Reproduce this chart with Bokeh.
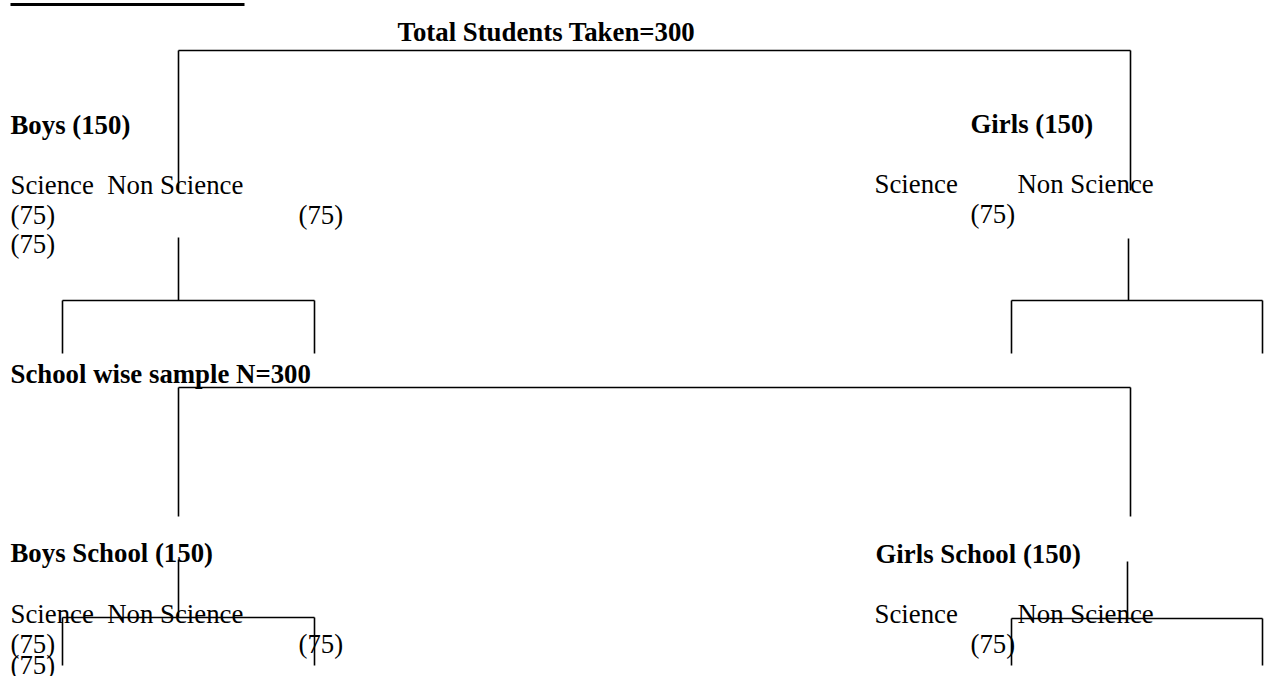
from bokeh.plotting import figure
from bokeh.models import Range1d, ColumnDataSource
from bokeh.core.properties import value
from bokeh.embed import file_html
from bokeh.resources import INLINE

# ---- data ----
total_students = 300
school_sample = 300
boys = 150
girls = 150
science = 75
non_science = 75

group_titles = [f"Total Students Taken={total_students}", f"Boys ({boys})", f"Girls ({girls})",
                f"School wise sample N={school_sample}", f"Boys School ({boys})", f"Girls School ({girls})"]
stream_labels = ["Science\u00a0 Non Science", "Science", "Non Science",
                 "Science\u00a0 Non Science", "Science", "Non Science"]
count_labels = [f"({science})", f"({non_science})", f"({science})", f"({science})",
                f"({science})", f"({non_science})", f"({science})", f"({science})"]

# ---- layout (picture pixel coordinates) ----
W, H = 1264, 676
FONT = value("Liberation Serif")
FS = "26.8px"

title_x = [397, 10, 970, 10, 10, 875]
title_y = [31, 124, 123, 373, 552, 553]
stream_x = [10, 874, 1017, 10, 874, 1017]
stream_y = [184, 183, 183, 613, 613, 613]
count_x = [10, 298, 970, 10, 10, 298, 970, 10]
count_y = [214, 214, 213, 243, 643, 643, 643, 664]

R = 1262
seg_x0 = [10, 178, 178, 1130, 178, 62, 62, 314, 1128, 1011, 1011, R,
          178, 178, 1130, 178, 62, 62, 314, 1127, 1011, 1011, R]
seg_y0 = [4, 50, 50, 50, 237, 300, 300, 300, 238, 300, 300, 300,
          387, 387, 387, 559, 617, 617, 617, 561, 618, 618, 618]
seg_x1 = [244, 1130, 178, 1130, 178, 314, 62, 314, 1128, R, 1011, R,
          1130, 178, 1130, 178, 314, 62, 314, 1127, R, 1011, R]
seg_y1 = [4, 50, 190, 190, 300, 300, 353, 353, 300, 300, 353, 353,
          387, 516, 516, 617, 617, 665, 665, 618, 618, 665, 665]
seg_w = [3] + [1.6] * 22

p = figure(width=W, height=H, output_backend="svg", toolbar_location=None,
           x_range=Range1d(0, W), y_range=Range1d(H, 0),
           min_border=0, outline_line_color=None, background_fill_color="white",
           border_fill_color="white")
p.axis.visible = False
p.grid.visible = False

p.segment(x0="x0", y0="y0", x1="x1", y1="y1", line_width="w", line_color="black",
          source=ColumnDataSource(dict(x0=seg_x0, y0=seg_y0, x1=seg_x1, y1=seg_y1, w=seg_w)))

p.text(x=title_x, y=title_y, text=group_titles, text_font=FONT, text_font_size=FS,
       text_font_style="bold", text_color="black", text_align="left", text_baseline="alphabetic")
p.text(x=stream_x, y=stream_y, text=stream_labels, text_font=FONT, text_font_size=FS,
       text_color="black", text_align="left", text_baseline="alphabetic")
p.text(x=count_x, y=count_y, text=count_labels, text_font=FONT, text_font_size=FS,
       text_color="black", text_align="left", text_baseline="alphabetic")

open("out.html", "w").write(file_html(p, INLINE))
